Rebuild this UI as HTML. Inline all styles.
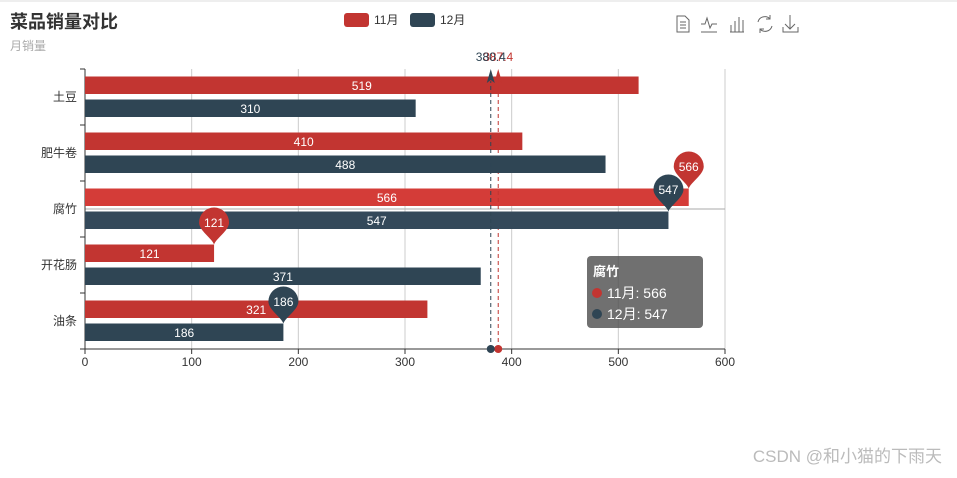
<!DOCTYPE html>
<html><head><meta charset="utf-8"><style>
body{margin:0;background:#fff;font-family:"Liberation Sans","Noto Sans CJK SC",sans-serif}
svg text{font-family:"Liberation Sans","Noto Sans CJK SC",sans-serif}
</style></head><body>
<svg id="c" width="957" height="473" xmlns="http://www.w3.org/2000/svg">
<rect x="0" y="0" width="957" height="2" fill="#eee"/>
<text x="10" y="28" font-size="18" font-weight="bold" fill="#333">菜品销量对比</text>
<text x="10" y="50" font-size="12" fill="#aaa">月销量</text>
<g><rect x="344" y="13" width="25" height="14" rx="3" fill="#c23531"/><text x="374" y="24" font-size="12" fill="#333">11月</text></g>
<g><rect x="410" y="13" width="25" height="14" rx="3" fill="#2f4554"/><text x="440" y="24" font-size="12" fill="#333">12月</text></g>
<g fill="none" stroke="#666" stroke-width="1">
<g><path d="M677 16h8l4 4v12h-12z M680 22h6 M680 25h6 M680 28h6"/></g>
<g><path d="M701 24h4l2-6 3 10 2-4h5 M701 32h16"/></g>
<g><path d="M730 32h14 M731 25v7 M735 21v11 M739 17v15 M743 20v12"/></g>
<g><path d="M758 22a7 7 0 0 1 12-3 M772 26a7 7 0 0 1-12 3 M770 15v4h-4 M760 33v-4h4"/></g>
<g><path d="M790 15v14 M785 24l5 5 5-5 M783 27v5h15v-5"/></g>
</g>
<g id="grid"></g>
<g id="marks"></g>
<g id="pins"></g>
<g>
<rect x="587" y="256" width="116" height="72" rx="4" fill="rgba(80,80,80,0.82)"/>
<text x="593" y="276" font-size="13" fill="#fff" font-weight="bold">腐竹</text>
<circle cx="597" cy="293" r="5" fill="#c23531"/><text x="607" y="298" font-size="14" fill="#fff">11月: 566</text>
<circle cx="597" cy="314" r="5" fill="#2f4554"/><text x="607" y="319" font-size="14" fill="#fff">12月: 547</text>
</g>
<text x="942" y="462" font-size="17" fill="#bbb" text-anchor="end">CSDN @和小猫的下雨天</text>
</svg>
<script>
const categories=["土豆","肥牛卷","腐竹","开花肠","油条"];
const nov=[519,410,566,121,321];
const dec=[310,488,547,371,186];
const xTicks=[0,100,200,300,400,500,600];
const colors=["#c23531","#2f4554"];
const NS="http://www.w3.org/2000/svg";
const X0=85,X1=725,XMAX=600,Y0=69,Y1=349;
const band=(Y1-Y0)/categories.length;
const xs=v=>X0+v/XMAX*(X1-X0);
const bandTop=i=>Y0+i*band;
function mk(t,a,p){const e=document.createElementNS(NS,t);for(const k in a)e.setAttribute(k,a[k]);(p||document.getElementById('marks')).appendChild(e);return e;}
const grid=document.getElementById('grid');
const pins=document.getElementById('pins');
xTicks.forEach(t=>{
 if(t>0){const l=mk('line',{x1:xs(t),x2:xs(t),y1:Y0,y2:Y1,stroke:'#ccc'},grid);
 
 }
 mk('line',{x1:xs(t),x2:xs(t),y1:Y1,y2:Y1+5,stroke:'#333'},grid);
 const tx=mk('text',{x:xs(t),y:Y1+17,'font-size':12,fill:'#333','text-anchor':'middle'},grid);tx.textContent=t;
 
 
});
mk('line',{x1:X0,x2:X1,y1:bandTop(2)+band/2,y2:bandTop(2)+band/2,stroke:'#aaa'},grid);
mk('line',{x1:X0,x2:X0,y1:Y0,y2:Y1,stroke:'#333'},grid);
mk('line',{x1:X0,x2:X1,y1:Y1,y2:Y1,stroke:'#333'},grid);
for(let i=0;i<=categories.length;i++)mk('line',{x1:X0-5,x2:X0,y1:bandTop(i),y2:bandTop(i),stroke:'#333'},grid);
categories.forEach((c,i)=>{const t=mk('text',{x:X0-8,y:bandTop(i)+band/2+4,'font-size':12,fill:'#333','text-anchor':'end'},grid);t.textContent=c;
 
 });
const series=[nov,dec];
series.forEach((s,si)=>{
 s.forEach((v,i)=>{
  const y=bandTop(i)+(si===0?7.5:30.5),h=17.5;
  const hl=i===2;
  const r=mk('rect',{x:X0,y:y,width:xs(v)-X0,height:h,fill:hl?(si?'#34495a':'#d43c38'):colors[si]});
  
  
  const t=mk('text',{x:(X0+xs(v))/2,y:y+h/2+4.5,'font-size':12,fill:'#fff','text-anchor':'middle'});t.textContent=v;
 });
 const mx=Math.max(...s),mn=Math.min(...s);
 [mx,mn].forEach(val=>{
  const i=s.indexOf(val);const px=xs(val),py=bandTop(i)+(si===0?7.5:30.5);
  const cy=py-22;
  const p=mk('path',{d:`M${px} ${py} C${px-2} ${py-6} ${px-15} ${cy+8} ${px-15} ${cy} A15 15 0 1 1 ${px+15} ${cy} C${px+15} ${cy+8} ${px+2} ${py-6} ${px} ${py}Z`,fill:colors[si]},pins);
  
  
  const t=mk('text',{x:px,y:cy+4.5,'font-size':12,fill:'#fff','text-anchor':'middle'},pins);t.textContent=val;
 });
 const avg=s.reduce((a,b)=>a+b,0)/s.length;const ax=xs(avg);
 const l=mk('line',{x1:ax,x2:ax,y1:Y1,y2:Y0+12,stroke:colors[si],'stroke-dasharray':'4,3'});
 
 
 mk('circle',{cx:ax,cy:Y1,r:4,fill:colors[si]});
 mk('path',{d:`M${ax} ${Y0} l-4 14 l4 -3 l4 3z`,fill:colors[si]});
 const t=mk('text',{x:ax,y:Y0-8,'font-size':12,fill:si?'#2f4554':'#c23531','text-anchor':'middle'});t.textContent=avg.toFixed(1);
});
</script>
</body></html>
